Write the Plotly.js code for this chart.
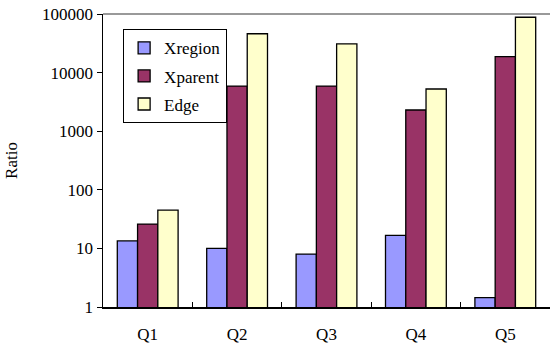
<!DOCTYPE html>
<html>
<head>
<meta charset="utf-8">
<script src="https://cdn.plot.ly/plotly-3.0.1.min.js"></script>
<style>html,body{margin:0;padding:0;background:#fff;}#chart{width:550px;height:345px;}</style>
</head>
<body>
<div id="chart"></div>
<script>
var categories = ["Q1", "Q2", "Q3", "Q4", "Q5"];
var xregion = [13.4, 10, 8, 16.7, 1.45];
var xparent = [26, 5900, 5900, 2300, 18700];
var edge = [45, 46000, 31000, 5250, 88000];
var yTickVals = [1, 10, 100, 1000, 10000, 100000];
var yTickText = ["1", "10", "100", "1000", "10000", "100000"];

var fontFam = "Liberation Serif";
function mk(name, vals, color, grp) {
  return {
    type: "bar", name: name, x: categories, y: vals,
    legendgroup: grp,
    marker: {color: color, line: {color: "#000", width: 1.3}}
  };
}
var data = [
  mk("Xregion", xregion, "#9999FF", "a"),
  mk("Xparent", xparent, "#993366", "b"),
  mk("Edge", edge, "#FFFFCC", "c")
];
var layout = {
  width: 550, height: 345,
  margin: {l: 103, r: 0, t: 14, b: 38},
  paper_bgcolor: "#fff", plot_bgcolor: "#fff",
  font: {family: fontFam, size: 17, color: "#000"},
  barmode: "group",
  bargap: 0.32,
  bargroupgap: 0,
  showlegend: true,
  legend: {
    x: 0.045, y: 0.948, xanchor: "left", yanchor: "top",
    bordercolor: "#000", borderwidth: 1, bgcolor: "#fff",
    font: {family: fontFam, size: 17, color: "#000"},
    tracegroupgap: 3,
    itemwidth: 30,
    traceorder: "grouped"
  },
  xaxis: {
    type: "category",
    showline: true, linecolor: "#000", linewidth: 1.5,
    ticks: "inside", tickson: "boundaries", ticklen: 5, tickcolor: "#000",
    showgrid: false, zeroline: false,
    tickfont: {family: fontFam, size: 17},
    ticklabelstandoff: 11
  },
  yaxis: {
    type: "log",
    range: [0, 5],
    tickvals: yTickVals, ticktext: yTickText,
    showline: true, linecolor: "#000", linewidth: 1.5,
    ticks: "outside", ticklen: 5, tickcolor: "#000",
    showgrid: false, zeroline: false,
    tickfont: {family: fontFam, size: 17},
    title: {text: "Ratio", font: {family: fontFam, size: 17}, standoff: 20}
  },
  shapes: [
    {type: "line", xref: "paper", yref: "paper", x0: 0, x1: 1, y0: 1, y1: 1,
     line: {color: "#777", width: 1.5}}
  ]
};
Plotly.newPlot("chart", data, layout, {displayModeBar: false, staticPlot: true});
</script>
</body>
</html>
